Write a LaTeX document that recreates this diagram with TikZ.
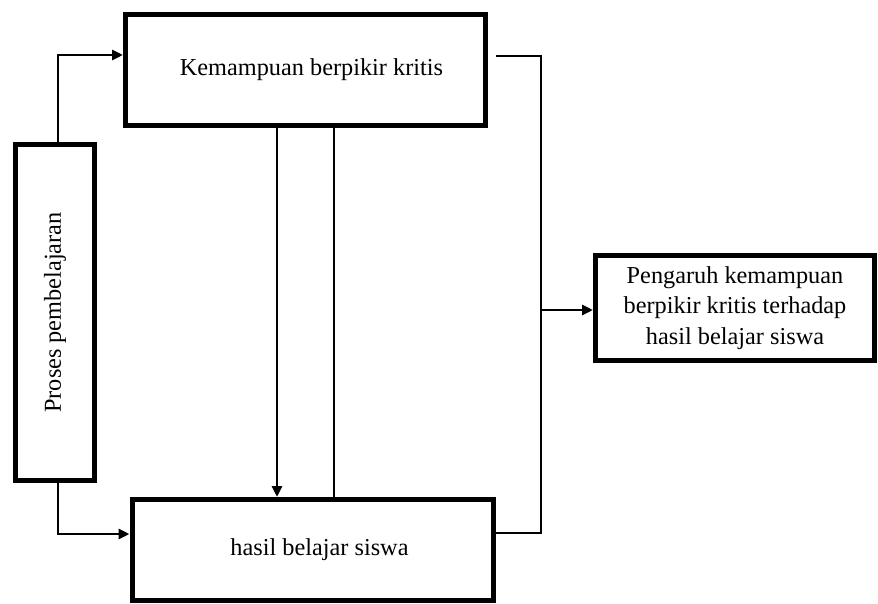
\documentclass[tikz,border=0pt]{standalone}
\usepackage{fontspec}
\setmainfont{Liberation Serif}
\usetikzlibrary{arrows.meta}

\begin{document}
\begin{tikzpicture}[x=1pt, y=-1pt, >={Triangle[length=11pt,width=10pt]},
		font=\fontsize{24.3}{30.5}\selectfont,
		box/.style={draw, rectangle, line width=5pt, align=center, inner sep=0pt},
		conn/.style={line width=2.8pt}]
			%Bildbereich
			\useasboundingbox (0,0) rectangle (878,604);
			% Kotak
			\node[box, minimum width=360pt, minimum height=111pt] (kemampuan) at (305.5,70) {\hspace*{12pt}Kemampuan berpikir kritis};
			\node[box, minimum width=79pt, minimum height=336pt] (proses) at (55,312.5) {\rotatebox{90}{Proses pembelajaran}};
			\node[box, minimum width=361pt, minimum height=101pt] (hasil) at (312.5,550) {\hspace*{14pt}hasil belajar siswa};
			\node[box, minimum width=279pt, minimum height=105pt] (pengaruh) at (735,308) {Pengaruh kemampuan\\berpikir kritis terhadap\\hasil belajar siswa};
			\coordinate (joint) at (541,310);
			% Panah
			\draw[conn,->] ([xshift=3pt]proses.north) |- ([yshift=15pt]kemampuan.west);
			\draw[conn,->] ([xshift=3pt]proses.south) |- ([yshift=16pt]hasil.west);
			\draw[conn,->] ([xshift=-28.5pt]kemampuan.south) -- ([xshift=-28.5pt]kemampuan.south |- hasil.north);
			\draw[conn] ([xshift=28.5pt]kemampuan.south) -- ([xshift=28.5pt]kemampuan.south |- hasil.north);
			\draw[conn] ([xshift=8pt,yshift=14pt]kemampuan.east) -| (joint) |- ([yshift=17pt]hasil.east);
			\draw[conn,->] (joint) -- (joint -| pengaruh.west);
		\end{tikzpicture}
\end{document}
